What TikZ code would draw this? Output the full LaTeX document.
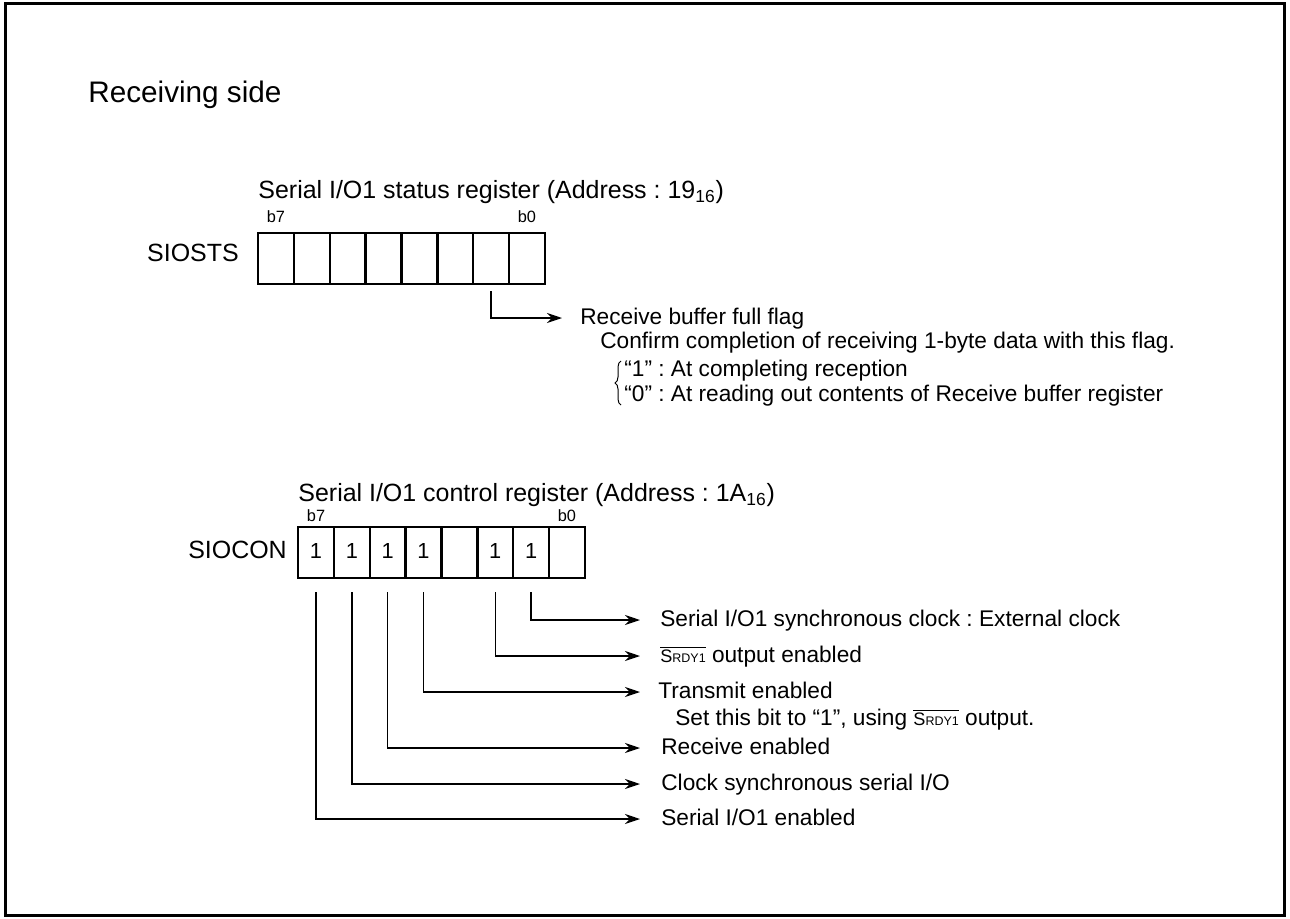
\documentclass[tikz,border=0pt]{standalone}
\usepackage{fontspec}
\setmainfont{Liberation Sans}
\usetikzlibrary{positioning,arrows.meta,decorations.pathreplacing}
\frenchspacing

\newcommand\srdy{$\overline{\mbox{\fontsize{10.3}{12}\selectfont S\fontsize{7.1}{8}\selectfont RDY1}}$}

\begin{document}
\begin{tikzpicture}[x=0.2mm, y=-0.2mm,
    cell/.style={draw, rectangle, line width=0.5mm, minimum width=7.17mm, minimum height=10.2mm, inner sep=0pt, outer sep=0pt, text height=0.72em, text depth=0pt, font=\fontsize{12.4}{14}\selectfont},
    regname/.style={inner sep=0pt, text height=0.72em, text depth=0pt, font=\fontsize{14.2}{17}\selectfont},
    bitno/.style={inner sep=0pt, text height=0.72em, text depth=0pt, font=\fontsize{9.3}{11}\selectfont},
    lbl/.style={inner sep=0pt, text height=0.72em, text depth=0pt, anchor=west, font=\fontsize{12.9}{15}\selectfont},
    arrow/.style={-{Stealth[length=3mm, width=2mm, inset=1mm]}, line width=0.3mm}
]
    \useasboundingbox (0,0) rectangle (1290,919);
    \draw [line width=0.6mm] (5.5,3.5) rectangle (1284.5,915.5);

    \node (side) [regname, anchor=west, font=\fontsize{16.9}{20}\selectfont] at (88,96) {Receiving side};

    % status register
    \node (s1) [cell] at (276,258.5) {};
    \node (s2) [cell, right=0pt of s1] {};
    \node (s3) [cell, right=0pt of s2] {};
    \node (s4) [cell, right=0pt of s3] {};
    \node (s5) [cell, right=0pt of s4] {};
    \node (s6) [cell, right=0pt of s5] {};
    \node (s7) [cell, right=0pt of s6] {};
    \node (s8) [cell, right=0pt of s7] {};
    \node (sb7) [bitno, above=2mm of s1] {b7};
    \node (sb0) [bitno, above=2mm of s8] {b0};
    \node (stsname) [regname, left=3.8mm of s1, yshift=0.6mm] {SIOSTS};
    \node (ststitle) [regname, above right=6.8mm and 0mm of s1.north west] {Serial I/O1 status register (Address : 19\textsubscript{16})};

    \coordinate (flagtip) at (562,318);
    \draw [arrow, shorten <=1.4mm] (s7.south) |- (flagtip);
    \node (flag) [lbl, right=3.6mm of flagtip] {Receive buffer full flag};
    \node (confirm) [lbl] at (600,342) {Confirm completion of receiving 1-byte data with this flag.};
    \draw [decorate, decoration={brace, amplitude=1.2mm}, line width=0.2mm] (621,405) -- (621,361);
    \node (one) [lbl] at (624,370) {“1” : At completing reception};
    \node (zero) [lbl] at (624,395) {“0” : At reading out contents of Receive buffer register};

    % control register
    \node (c1) [cell] at (316,552.5) {1};
    \node (c2) [cell, right=0pt of c1] {1};
    \node (c3) [cell, right=0pt of c2] {1};
    \node (c4) [cell, right=0pt of c3] {1};
    \node (c5) [cell, right=0pt of c4] {};
    \node (c6) [cell, right=0pt of c5] {1};
    \node (c7) [cell, right=0pt of c6] {1};
    \node (c8) [cell, right=0pt of c7] {};
    \node (cb7) [bitno, above=1mm of c1] {b7};
    \node (cb0) [bitno, above=1mm of c8] {b0};
    \node (conname) [regname, left=2.2mm of c1] {SIOCON};
    \node (contitle) [regname, above right=5mm and 0mm of c1.north west] {Serial I/O1 control register (Address : 1A\textsubscript{16})};

    \coordinate (clktip) at (640,620);
    \coordinate (rdytip) at (640,656);
    \coordinate (txtip) at (640,692);
    \coordinate (rxtip) at (640,748);
    \coordinate (synctip) at (640,784);
    \coordinate (entip) at (640,819);
    \draw [arrow, shorten <=2.8mm] (c7.south) |- (clktip);
    \draw [arrow, shorten <=2.8mm] (c6.south) |- (rdytip);
    \draw [arrow, shorten <=2.8mm] (c4.south) |- (txtip);
    \draw [arrow, shorten <=2.8mm] (c3.south) |- (rxtip);
    \draw [arrow, shorten <=2.8mm] (c2.south) |- (synctip);
    \draw [arrow, shorten <=2.8mm] (c1.south) |- (entip);
    \node (clk) [lbl, right=4mm of clktip] {Serial I/O1 synchronous clock : External clock};
    \node (rdy) [lbl, right=4mm of rdytip] {\srdy{} output enabled};
    \node (tx) [lbl, right=3.6mm of txtip] {Transmit enabled};
    \node (settx) [lbl] at (675,719) {Set this bit to “1”, using \srdy{} output.};
    \node (rx) [lbl, right=4.2mm of rxtip] {Receive enabled};
    \node (sync) [lbl, right=4.2mm of synctip] {Clock synchronous serial I/O};
    \node (en) [lbl, right=4.2mm of entip] {Serial I/O1 enabled};
\end{tikzpicture}
\end{document}
